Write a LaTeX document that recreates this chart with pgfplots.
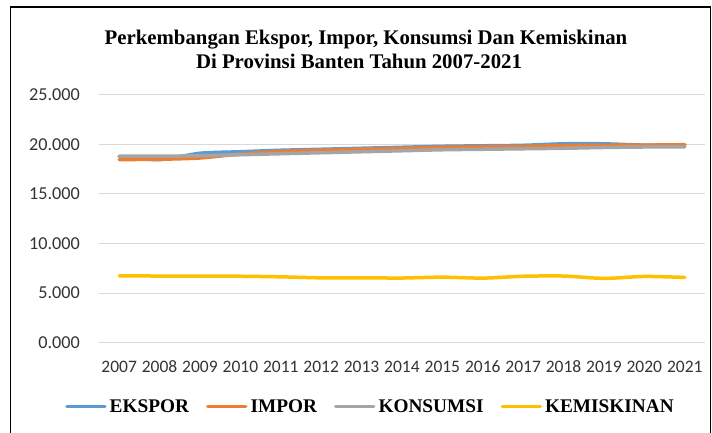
\documentclass[border=0pt]{standalone}
\usepackage{pgfplots}
\pgfplotsset{compat=1.18}
\usepackage{fontspec}
\setmainfont{Carlito}
\newfontfamily\tnr{Liberation Serif}
\definecolor{cblue}{HTML}{5B9BD5}
\definecolor{corange}{HTML}{ED7D31}
\definecolor{cgray}{HTML}{A5A5A5}
\definecolor{cyellow}{HTML}{FFC000}
\definecolor{cgrid}{HTML}{D9D9D9}
\begin{document}
\begin{tikzpicture}[x=1pt,y=1pt]
\path[use as bounding box] (0,0) rectangle (712,432);
\begin{scope}
\clip (0,0) rectangle (712,432);
\draw[black, line width=1.6pt] (10.5,-10) rectangle (710.5,425);
\end{scope}
\node[anchor=base, font=\tnr\bfseries\fontsize{20.8}{24}\selectfont] at (366,387) {Perkembangan Ekspor, Impor, Konsumsi Dan Kemiskinan};
\node[anchor=base, font=\tnr\bfseries\fontsize{20.8}{24}\selectfont] at (359,363) {Di Provinsi Banten Tahun 2007-2021};
\begin{axis}[
  at={(99pt,89.3pt)}, anchor=south west,
  scale only axis, width=606pt, height=248pt,
  xmin=2006.5, xmax=2021.5, ymin=0, ymax=25,
  axis line style={draw=none},
  xtick={2007,...,2021},
  xticklabels={2007,2008,2009,2010,2011,2012,2013,2014,2015,2016,2017,2018,2019,2020,2021},
  ytick={0,5,10,15,20,25},
  major tick length=0pt,
  ymajorgrids, grid style={cgrid, line width=1pt},
  tick label style={font=\fontsize{17.5}{20}\selectfont, text=black!80},
  xticklabel style={anchor=base, yshift=-30pt, inner sep=0pt},
  yticklabel style={anchor=east, xshift=-19pt, inner sep=0pt, font=\fontsize{18.2}{20}\selectfont},
  /pgf/number format/.cd, fixed, fixed zerofill, precision=3, assume math mode=true,
  /pgfplots/.cd,
  legend columns=4,
  legend style={at={(0.448,-0.258)}, anchor=center, draw=none, fill=none,
    font=\tnr\bfseries\fontsize{19.3}{22}\selectfont,
    /tikz/every odd column/.append style={column sep=1pt},
    /tikz/every even column/.append style={column sep=15pt},
    inner sep=0pt, row sep=0pt},
  legend image code/.code={\draw[#1, line width=3.5pt] (0pt,0pt) -- (38pt,0pt);},
  every axis plot/.append style={line width=3.5pt, smooth, tension=0.4, line cap=round},
]
\addplot[cblue] coordinates {(2007,18.75) (2008,18.45) (2009,19.10) (2010,19.25) (2011,19.40) (2012,19.50) (2013,19.60) (2014,19.70) (2015,19.80) (2016,19.85) (2017,19.90) (2018,20.05) (2019,20.05) (2020,19.92) (2021,19.95)};
\addlegendentry{EKSPOR}
\addplot[corange] coordinates {(2007,18.46) (2008,18.49) (2009,18.62) (2010,19.02) (2011,19.28) (2012,19.40) (2013,19.50) (2014,19.60) (2015,19.70) (2016,19.75) (2017,19.80) (2018,19.86) (2019,19.90) (2020,19.92) (2021,19.96)};
\addlegendentry{IMPOR}
\addplot[cgray] coordinates {(2007,18.80) (2008,18.80) (2009,18.85) (2010,18.95) (2011,19.05) (2012,19.15) (2013,19.25) (2014,19.35) (2015,19.45) (2016,19.50) (2017,19.55) (2018,19.60) (2019,19.68) (2020,19.73) (2021,19.75)};
\addlegendentry{KONSUMSI}
\addplot[cyellow] coordinates {(2007,6.74) (2008,6.72) (2009,6.70) (2010,6.70) (2011,6.64) (2012,6.54) (2013,6.54) (2014,6.52) (2015,6.61) (2016,6.51) (2017,6.70) (2018,6.72) (2019,6.48) (2020,6.68) (2021,6.58)};
\addlegendentry{KEMISKINAN}
\end{axis}
\end{tikzpicture}
\end{document}
